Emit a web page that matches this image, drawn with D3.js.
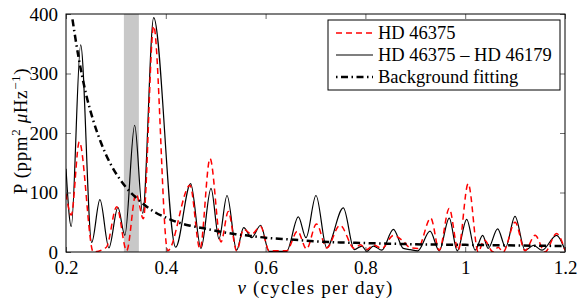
<!DOCTYPE html>
<html>
<head>
<meta charset="utf-8">
<script src="https://cdn.jsdelivr.net/npm/d3@7"></script>
<style>
  body { margin: 0; background: #fff; }
  text { font-family: "Liberation Serif", "DejaVu Serif", serif; }
</style>
</head>
<body>
<svg id="chart" width="578" height="300"></svg>
<script>
// frequency (cycles per day) and power for HD 46375
var redNu  = [0.200, 0.2105, 0.2267, 0.2548, 0.281, 0.3015, 0.3216, 0.3403, 0.355, 0.3757, 0.4038, 0.4485, 0.4685, 0.4886, 0.5106, 0.5253, 0.542, 0.556, 0.572, 0.590, 0.607, 0.642, 0.664, 0.682, 0.702, 0.7224, 0.749, 0.778, 0.790, 0.803, 0.816, 0.833, 0.856, 0.876, 0.890, 0.905, 0.931, 0.948, 0.968, 0.986, 1.006, 1.026, 1.038, 1.056, 1.066, 1.076, 1.100, 1.120, 1.140, 1.160, 1.183, 1.200];
var redP   = [98, 62, 185, 0, 8, 76, 2, 98, 56, 380, 2, 112, 5, 157, 17, 68, 2, 38, 30, 43, 2, 2, 35, 5, 47, 7, 45, 6, 12, 4, 12, 6, 28, 18, 7, 6, 57, 3, 73, 3, 115, 0, 20, 0, 8, 0, 50, 2, 28, 0, 31, 3];

// HD 46375 - HD 46179
var blackNu = [0.200, 0.2105, 0.2294, 0.2515, 0.268, 0.286, 0.304, 0.318, 0.3376, 0.3537, 0.3757, 0.4198, 0.4498, 0.4705, 0.4906, 0.5066, 0.5227, 0.542, 0.556, 0.572, 0.590, 0.607, 0.642, 0.6656, 0.681, 0.701, 0.7224, 0.7557, 0.7778, 0.793, 0.803, 0.816, 0.833, 0.856, 0.876, 0.890, 0.905, 0.9295, 0.948, 0.968, 0.984, 1.003, 1.020, 1.035, 1.046, 1.065, 1.081, 1.0998, 1.120, 1.137, 1.154, 1.183, 1.200];
var blackP  = [140, 43, 348, 16, 88, 7, 75, 28, 213, 65, 394, 8, 115, 6, 107, 22, 95, 3, 41, 24, 45, 1, 1, 59, 24, 95, 7, 74, 4, 10, 1, 10, 3, 38, 6, 4, 2, 35, 2, 57, 2, 55, 3, 28, 6, 39, 8, 60, 3, 11, 3, 28, 3];

// background fitting
var bgNu = [0.213, 0.225, 0.240, 0.255, 0.270, 0.288, 0.305, 0.325, 0.345, 0.362, 0.380, 0.400, 0.420, 0.450, 0.480, 0.510, 0.540, 0.570, 0.600, 0.650, 0.700, 0.750, 0.800, 0.900, 1.000, 1.100, 1.200];
var bgP  = [391, 328, 266, 220, 184, 150, 126, 104, 88, 76, 66, 58, 51, 44, 39, 34, 30, 27, 24, 21, 18, 16, 15, 13, 12, 11, 10];

// shaded interval
var band = [0.316, 0.346];

var xTicks = [0.2, 0.4, 0.6, 0.8, 1.0, 1.2];
var xTickLabels = ["0.2", "0.4", "0.6", "0.8", "1", "1.2"];
var yTicks = [0, 100, 200, 300, 400];

var legendItems = ["HD 46375", "HD 46375 \u2013 HD 46179", "Background fitting"];

var svg = d3.select("#chart");
var margin = {left: 66, top: 14, right: 13, bottom: 48};
var width = 578 - margin.left - margin.right;
var height = 300 - margin.top - margin.bottom;

var g = svg.append("g").attr("transform", `translate(${margin.left},${margin.top})`);

var x = d3.scaleLinear().domain([0.2, 1.2]).range([0, width]);
var y = d3.scaleLinear().domain([0, 400]).range([height, 0]);

g.append("clipPath").attr("id", "clip")
  .append("rect").attr("width", width).attr("height", height);

// gray band
g.append("rect")
  .attr("x", x(band[0]))
  .attr("y", 0)
  .attr("width", x(band[1]) - x(band[0]))
  .attr("height", height)
  .attr("fill", "#c8c8c8");

var line = d3.line()
  .x(d => x(d[0]))
  .y(d => y(d[1]))
  .curve(d3.curveMonotoneX);

var plot = g.append("g").attr("clip-path", "url(#clip)");

plot.append("path")
  .datum(d3.zip(blackNu, blackP))
  .attr("fill", "none")
  .attr("stroke", "#000")
  .attr("stroke-width", 1.2)
  .attr("d", line);

plot.append("path")
  .datum(d3.zip(redNu, redP))
  .attr("fill", "none")
  .attr("stroke", "#ff0000")
  .attr("stroke-width", 1.5)
  .attr("stroke-dasharray", "6,4")
  .attr("d", line);

plot.append("path")
  .datum(d3.zip(bgNu, bgP))
  .attr("fill", "none")
  .attr("stroke", "#000")
  .attr("stroke-width", 2.5)
  .attr("stroke-dasharray", "7,3.5,1.5,3.5")
  .attr("d", line);

// axes with inward ticks on all sides
var fontSize = 19;
g.append("g")
  .attr("transform", `translate(0,${height})`)
  .call(d3.axisBottom(x).tickValues(xTicks).tickSizeInner(-5).tickSizeOuter(0).tickPadding(9)
    .tickFormat((d, i) => xTickLabels[i]))
  .call(a => a.selectAll("text").attr("font-size", fontSize).attr("fill", "#000"));
g.append("g")
  .call(d3.axisTop(x).tickValues(xTicks).tickSizeInner(-5).tickSizeOuter(0).tickFormat(""));
g.append("g")
  .call(d3.axisLeft(y).tickValues(yTicks).tickSizeInner(-5).tickSizeOuter(0).tickPadding(8))
  .call(a => a.selectAll("text").attr("font-size", fontSize).attr("fill", "#000"));
g.append("g")
  .attr("transform", `translate(${width},0)`)
  .call(d3.axisRight(y).tickValues(yTicks).tickSizeInner(-5).tickSizeOuter(0).tickFormat(""));
g.selectAll(".domain").remove();
g.selectAll(".tick line").attr("stroke", "#444").attr("stroke-width", 0.8);

g.append("rect")
  .attr("width", width).attr("height", height)
  .attr("fill", "none").attr("stroke", "#000").attr("stroke-width", 1);

// axis labels
var xl = svg.append("text")
  .attr("x", margin.left + width / 2)
  .attr("y", 294)
  .attr("text-anchor", "middle")
  .attr("letter-spacing", 1.2)
  .attr("font-size", fontSize);
xl.append("tspan").attr("font-style", "italic").text("\u03bd");
xl.append("tspan").text(" (cycles per day)");

var yl = svg.append("text")
  .attr("transform", `translate(27,${margin.top + height / 2 - 2}) rotate(-90)`)
  .attr("text-anchor", "middle")
  .attr("letter-spacing", 0.6)
  .attr("font-size", fontSize);
yl.append("tspan").text("P (ppm");
yl.append("tspan").attr("font-size", 13).attr("dy", -7).text("2");
yl.append("tspan").attr("dy", 7).text(" ");
yl.append("tspan").attr("font-style", "italic").text("\u03bc");
yl.append("tspan").text("Hz");
yl.append("tspan").attr("font-size", 13).attr("dy", -7).text("\u22121");
yl.append("tspan").attr("dy", 7).text(")");

// legend
var lg = svg.append("g").attr("transform", "translate(328,20)");
lg.append("rect")
  .attr("width", 232).attr("height", 70)
  .attr("fill", "#fff").attr("stroke", "#000").attr("stroke-width", 1);
var legendStyles = [
  {stroke: "#ff0000", w: 1.5, dash: "6,4"},
  {stroke: "#000", w: 1.2, dash: null},
  {stroke: "#000", w: 2.5, dash: "1.5,3.5,7,3.5"}
];
legendItems.forEach(function(name, i) {
  var yy = 13 + i * 22;
  lg.append("line")
    .attr("x1", 8).attr("x2", 45)
    .attr("y1", yy).attr("y2", yy)
    .attr("stroke", legendStyles[i].stroke)
    .attr("stroke-width", legendStyles[i].w)
    .attr("stroke-dasharray", legendStyles[i].dash);
  lg.append("text")
    .attr("x", 50).attr("y", yy + 6)
    .attr("font-size", 18.5)
    .text(name);
});
</script>
</body>
</html>
